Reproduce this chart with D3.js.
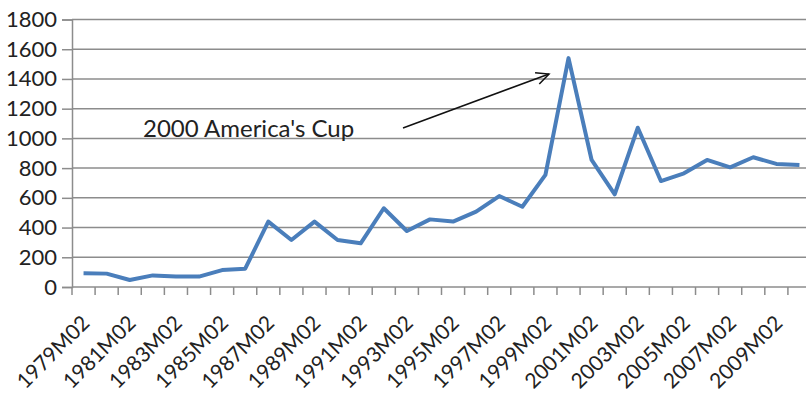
<!DOCTYPE html>
<html><head><meta charset="utf-8">
<script src="https://cdn.jsdelivr.net/npm/d3@7"></script>
<style>body{margin:0;background:#fff}svg{display:block}</style>
</head><body>
<svg id="c" width="806" height="394"></svg>
<script>
const years = d3.range(1979, 2011).map(y => y + "M02");
const values = [92, 90, 47, 78, 70, 70, 114, 123, 440, 316, 440, 316, 294, 530, 377, 455, 440, 507, 612, 540, 754, 1540, 855, 624, 1072, 713, 765, 855, 805, 873, 828, 821];
const yTicks = [0, 200, 400, 600, 800, 1000, 1200, 1400, 1600, 1800];
const xLabelEvery = 2;
const annotation = "2000 America's Cup";

const svg = d3.select("#c");
const font = "Lato, 'Open Sans', sans-serif";
const x = d3.scaleBand().domain(years).range([72, 811]);
const y = d3.scaleLinear().domain([0, 1800]).range([287, 19.5]);

// gridlines
svg.append("g").selectAll("line").data(yTicks.filter(d => d > 0)).join("line")
  .attr("x1", 72).attr("x2", 811).attr("y1", d => y(d)).attr("y2", d => y(d))
  .attr("stroke", "#8c8c8c").attr("stroke-width", 1.5);

// y axis
const ya = svg.append("g").attr("transform", "translate(72,0)")
  .call(d3.axisLeft(y).tickValues(yTicks).tickSize(10).tickPadding(5).tickFormat(d3.format("d")));
ya.select(".domain").attr("stroke", "#8c8c8c").attr("stroke-width", 1.5);
ya.selectAll(".tick line").attr("stroke", "#8c8c8c").attr("stroke-width", 1.5);
ya.selectAll("text").attr("font-family", font).attr("font-size", 22).attr("fill", "#222");

// x axis line
svg.append("line").attr("x1", 72).attr("x2", 811).attr("y1", y(0)).attr("y2", y(0))
  .attr("stroke", "#8c8c8c").attr("stroke-width", 1.5);
// x ticks at category boundaries
svg.append("g").selectAll("line").data(years.concat(["end"])).join("line")
  .attr("x1", d => d === "end" ? x.range()[1] : x(d))
  .attr("x2", d => d === "end" ? x.range()[1] : x(d))
  .attr("y1", y(0)).attr("y2", y(0) + 8)
  .attr("stroke", "#8c8c8c").attr("stroke-width", 1.5);
// x labels
svg.append("g").selectAll("text").data(years.filter((d, i) => i % xLabelEvery === 0)).join("text")
  .attr("transform", d => `translate(${x(d) + x.bandwidth() / 2 - 3},${y(0) + 27})  rotate(-45)`)
  .attr("text-anchor", "end").attr("dy", "0.7em")
  .attr("font-family", font).attr("font-size", 21).attr("fill", "#222")
  .text(d => d);

// line
const line = d3.line().x((d, i) => x(years[i]) + x.bandwidth() / 2).y(d => y(d));
svg.append("path").datum(values).attr("d", line)
  .attr("fill", "none").attr("stroke", "#4a7ebb").attr("stroke-width", 4)
  .attr("stroke-linejoin", "round");

// annotation
svg.append("text").attr("x", 143).attr("y", 137)
  .attr("font-family", font).attr("font-size", 24).attr("fill", "#222").text(annotation);
const ax1 = 403, ay1 = 128, ax2 = 549, ay2 = 74;
svg.append("line").attr("x1", ax1).attr("y1", ay1).attr("x2", ax2).attr("y2", ay2)
  .attr("stroke", "#111").attr("stroke-width", 1.5);
const ang = Math.atan2(ay2 - ay1, ax2 - ax1);
const hl = 14, ha = 0.45;
svg.append("path")
  .attr("d", `M${ax2 - hl * Math.cos(ang - ha)},${ay2 - hl * Math.sin(ang - ha)}L${ax2},${ay2}L${ax2 - hl * Math.cos(ang + ha)},${ay2 - hl * Math.sin(ang + ha)}`)
  .attr("fill", "none").attr("stroke", "#111").attr("stroke-width", 1.5);
</script>
</body></html>
